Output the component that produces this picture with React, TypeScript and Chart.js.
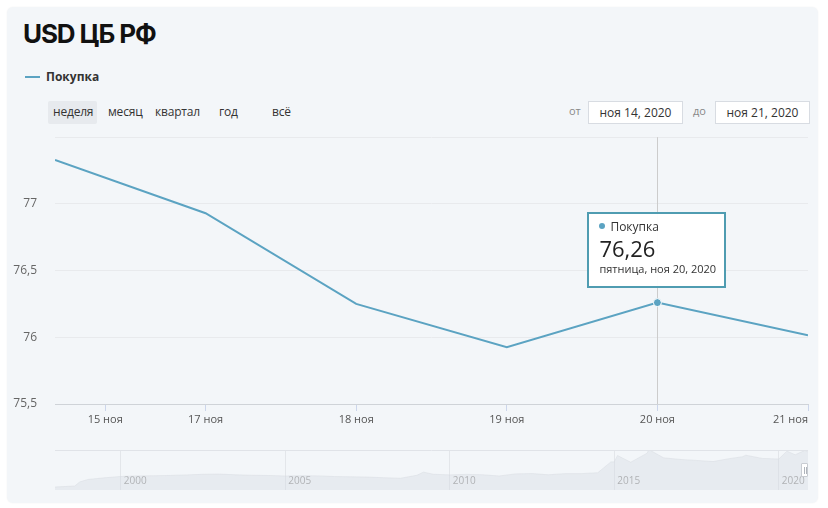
import React, { useEffect, useRef, useState } from "react";
import { Chart, registerables } from "chart.js";

Chart.register(...registerables);

// ---- data ----
const titleText = "USD ЦБ РФ";
const seriesName = "Покупка";
const categories = ["14 ноя", "17 ноя", "18 ноя", "19 ноя", "20 ноя", "21 ноя"];
const buyValues = [77.33, 76.93, 76.25, 75.925, 76.26, 76.015];
const xTickValues = [0, 1 / 3, 1, 2, 3, 4, 5];
const xTickLabels = ["", "15 ноя", "17 ноя", "18 ноя", "19 ноя", "20 ноя", "21 ноя"];
const yTickValues = [75.5, 76, 76.5, 77, 77.5];
const yTickLabels = ["75,5", "76", "76,5", "77", ""];
const activeIndex = 4;
const tooltipValue = "76,26";
const tooltipDate = "пятница, ноя 20, 2020";
const rangeButtons = ["неделя", "месяц", "квартал", "год", "всё"];
const fromDate = "ноя 14, 2020";
const toDate = "ноя 21, 2020";

const navYears = [
  1998.0, 1998.6, 1998.75, 1999.0, 1999.5, 2000.0, 2000.5, 2001.0, 2001.5, 2002.0, 2002.5,
  2003.0, 2003.5, 2004.0, 2004.5, 2005.0, 2005.5, 2006.0, 2006.5, 2007.0, 2007.5, 2008.0,
  2008.5, 2009.0, 2009.2, 2009.5, 2010.0, 2010.5, 2011.0, 2011.5, 2012.0, 2012.5, 2013.0,
  2013.5, 2014.0, 2014.5, 2014.9, 2015.0, 2015.1, 2015.5, 2016.0, 2016.05, 2016.5, 2017.0,
  2017.5, 2018.0, 2018.5, 2018.9, 2019.0, 2019.5, 2020.0, 2020.25, 2020.5, 2020.8, 2020.89,
];
const navValues = [
  5.96, 7.9, 16, 21, 24.3, 27, 28.2, 28.4, 29.1, 30.1, 31.4,
  31.8, 30.3, 29.4, 29.0, 27.9, 28.6, 28.2, 26.9, 26.3, 25.8, 24.5,
  23.4, 29.4, 35.7, 31.4, 30.2, 31.2, 30.4, 28.0, 32.2, 32.8, 30.4,
  32.7, 32.7, 34.5, 56.2, 56.2, 68.9, 55.5, 73.6, 80.9, 64.3, 61.1,
  59.1, 56.8, 62.7, 66.5, 69.5, 63.1, 61.9, 77.7, 70.4, 79.3, 76.0,
];
const navTickYears = [2000, 2005, 2010, 2015, 2020];

const LINE = "#5ba3c2";
const FONT = "'Open Sans', 'Noto Sans', sans-serif";

export default function App() {
  const mainRef = useRef<HTMLCanvasElement | null>(null);
  const navRef = useRef<HTMLCanvasElement | null>(null);
  const [tip, setTip] = useState<{ x: number; y: number } | null>(null);
  const [handle, setHandle] = useState<{ x: number; top: number; bottom: number } | null>(null);

  useEffect(() => {
    if (!mainRef.current || !navRef.current) return;

    const crosshair = {
      id: "crosshair",
      beforeDatasetsDraw(chart: any) {
        const { ctx, chartArea, scales } = chart;
        const x = Math.round(scales.x.getPixelForValue(activeIndex)) + 0.5;
        ctx.save();
        ctx.strokeStyle = "#cccccc";
        ctx.lineWidth = 1;
        ctx.beginPath();
        ctx.moveTo(x, chartArea.top);
        ctx.lineTo(x, chartArea.bottom);
        ctx.stroke();
        ctx.restore();
      },
    };

    const main = new Chart(mainRef.current, {
      type: "line",
      data: {
        labels: categories,
        datasets: [
          {
            label: seriesName,
            data: buyValues.map((v, i) => ({ x: i, y: v })),
            borderColor: LINE,
            borderWidth: 2,
            pointRadius: buyValues.map((_, i) => (i === activeIndex ? 4 : 0)),
            pointBackgroundColor: LINE,
            pointBorderColor: "#ffffff",
            pointBorderWidth: 1,
            tension: 0,
            fill: false,
          },
        ],
      },
      options: {
        animation: false,
        responsive: false,
        events: [],
        layout: { padding: { top: 10, right: 20, left: 0, bottom: 0 } },
        plugins: { legend: { display: false }, tooltip: { enabled: false } },
        scales: {
          x: {
            type: "linear",
            min: 0,
            max: 5,
            afterBuildTicks: (s: any) => {
              s.ticks = xTickValues.map((v) => ({ value: v }));
            },
            afterFit: (s: any) => {
              s.height = 28;
            },
            ticks: {
              autoSkip: false,
              maxRotation: 0,
              align: "inner",
              padding: 2,
              color: "#555",
              font: { family: FONT, size: 11 },
              callback: (_v: any, i: number) => xTickLabels[i],
            },
            grid: {
              drawOnChartArea: false,
              drawTicks: true,
              tickLength: 7,
              tickColor: (c: any) => (c.index === 0 ? "rgba(0,0,0,0)" : "#ccd6eb"),
            },
            border: { display: true, color: "#cfd3d8", width: 1 },
          },
          y: {
            min: 75.5,
            max: 77.5,
            afterBuildTicks: (s: any) => {
              s.ticks = yTickValues.map((v) => ({ value: v }));
            },
            afterFit: (s: any) => {
              s.width = 55;
            },
            ticks: {
              padding: 18,
              color: "#666",
              font: { family: FONT, size: 12 },
              callback: (_v: any, i: number) => yTickLabels[i],
            },
            grid: { color: "#e8eaed", drawTicks: false },
            border: { display: false },
          },
        },
      },
      plugins: [crosshair],
    });

    const nav = new Chart(navRef.current, {
      type: "line",
      data: {
        datasets: [
          {
            label: "nav",
            data: navYears.map((x, i) => ({ x, y: navValues[i] })),
            borderColor: "rgba(215,219,226,0.5)",
            borderWidth: 1,
            backgroundColor: "rgba(212,217,226,0.38)",
            fill: "origin",
            pointRadius: 0,
            tension: 0,
          },
        ],
      },
      options: {
        animation: false,
        responsive: false,
        events: [],
        layout: { padding: { top: 5, right: 20, left: 55, bottom: 0 } },
        plugins: { legend: { display: false }, tooltip: { enabled: false } },
        scales: {
          x: {
            type: "linear",
            min: 1998.0,
            max: 2020.89,
            afterBuildTicks: (s: any) => {
              s.ticks = navTickYears.map((v) => ({ value: v }));
            },
            afterFit: (s: any) => {
              s.height = 10;
            },
            ticks: {
              autoSkip: false,
              maxRotation: 0,
              align: "start",
              mirror: true,
              labelOffset: 3,
              padding: 3,
              color: "#999",
              font: { family: FONT, size: 10 },
              callback: (v: any) => String(v),
            },
            grid: { color: "#e3e6ea", drawTicks: false, drawOnChartArea: true },
            border: { display: false },
          },
          y: {
            display: false,
            min: 0,
            max: 80,
          },
        },
      },
      plugins: [
        {
          id: "navTop",
          afterDraw(chart: any) {
            const { ctx, chartArea } = chart;
            ctx.save();
            ctx.strokeStyle = "#e0e3e8";
            ctx.lineWidth = 1;
            ctx.beginPath();
            ctx.moveTo(chartArea.left, chartArea.top + 0.5);
            ctx.lineTo(chartArea.right, chartArea.top + 0.5);
            ctx.stroke();
            ctx.restore();
          },
        },
      ],
    });

    setTip({
      x: main.scales.x.getPixelForValue(activeIndex),
      y: main.scales.y.getPixelForValue(buyValues[activeIndex]),
    });
    setHandle({ x: nav.chartArea.right, top: nav.chartArea.top, bottom: nav.chartArea.bottom });

    return () => {
      main.destroy();
      nav.destroy();
    };
  }, []);

  const MAIN_TOP = 112;
  const MAIN_H = 320;
  const NAV_TOP = 445;

  return (
    <div style={{ position: "absolute", left: 0, top: 0, width: 828, height: 508, background: "#ffffff", fontFamily: FONT, overflow: "hidden" }}>
      <div
        style={{
          position: "absolute",
          left: 7,
          top: 7,
          width: 811,
          height: 496,
          background: "#f3f6f9",
          borderRadius: 6,
          boxShadow: "0 0 2px rgba(0,0,0,0.06)",
        }}
      />
      <div style={{ position: "absolute", left: 23, top: 18, fontSize: 26, fontWeight: 700, color: "#111", fontFamily: "Inter, 'Open Sans', sans-serif", letterSpacing: -1.1 }}>
        {titleText}
      </div>
      <div style={{ position: "absolute", left: 25, top: 76, width: 15, height: 2, background: LINE }} />
      <div style={{ position: "absolute", left: 46, top: 68, fontSize: 12, fontWeight: 700, color: "#333" }}>{seriesName}</div>

      <div style={{ position: "absolute", left: 48, top: 101, width: 49, height: 23, background: "#e7eaee", borderRadius: 2 }} />
      {rangeButtons.map((b, i) => (
        <div
          key={b}
          style={{
            position: "absolute",
            left: [53, 108, 155, 219, 272][i],
            top: 103,
            fontSize: 12,
            letterSpacing: -0.2,
            color: "#333",
          }}
        >
          {b}
        </div>
      ))}

      <div style={{ position: "absolute", left: 569, top: 103, fontSize: 11, color: "#888" }}>от</div>
      <div style={{ position: "absolute", left: 588, top: 101, width: 93, height: 21, border: "1px solid #d8dce2", background: "#fff", fontSize: 12, color: "#333", textAlign: "center", lineHeight: "21px" }}>
        {fromDate}
      </div>
      <div style={{ position: "absolute", left: 693, top: 103, fontSize: 11, color: "#888" }}>до</div>
      <div style={{ position: "absolute", left: 715, top: 101, width: 93, height: 21, border: "1px solid #d8dce2", background: "#fff", fontSize: 12, color: "#333", textAlign: "center", lineHeight: "21px" }}>
        {toDate}
      </div>

      <canvas ref={mainRef} width={828} height={MAIN_H} style={{ position: "absolute", left: 0, top: MAIN_TOP, width: 828, height: MAIN_H }} />
      <canvas ref={navRef} width={828} height={55} style={{ position: "absolute", left: 0, top: NAV_TOP, width: 828, height: 55 }} />

      {handle && (
        <div
          style={{
            position: "absolute",
            left: handle.x - 7,
            top: NAV_TOP + handle.top + 13,
            width: 7,
            height: 14,
            background: "#fff",
            border: "1px solid #c8ccd2",
            borderRadius: 1,
            boxSizing: "border-box",
          }}
        >
          <div style={{ position: "absolute", left: 1.5, top: 3, width: 1, height: 7, background: "#b0b5bc" }} />
          <div style={{ position: "absolute", left: 3.5, top: 3, width: 1, height: 7, background: "#b0b5bc" }} />
        </div>
      )}

      {tip && (
        <div
          style={{
            position: "absolute",
            left: tip.x - 70,
            top: MAIN_TOP + tip.y - 91,
            width: 139,
            height: 76,
            boxSizing: "border-box",
            border: "2px solid #4f9cb1",
            background: "rgba(255,255,255,0.96)",
            padding: "6px 0 0 10px",
            color: "#333",
          }}
        >
          <div style={{ fontSize: 12, lineHeight: "14px", whiteSpace: "nowrap" }}>
            <span style={{ display: "inline-block", width: 6, height: 6, borderRadius: 3, background: LINE, marginRight: 5, verticalAlign: "middle", position: "relative", top: -1 }} />
            {seriesName}
          </div>
          <div style={{ fontSize: 22, lineHeight: "28px", color: "#222" }}>{tooltipValue}</div>
          <div style={{ fontSize: 11, lineHeight: "14px", whiteSpace: "nowrap" }}>{tooltipDate}</div>
        </div>
      )}
    </div>
  );
}
